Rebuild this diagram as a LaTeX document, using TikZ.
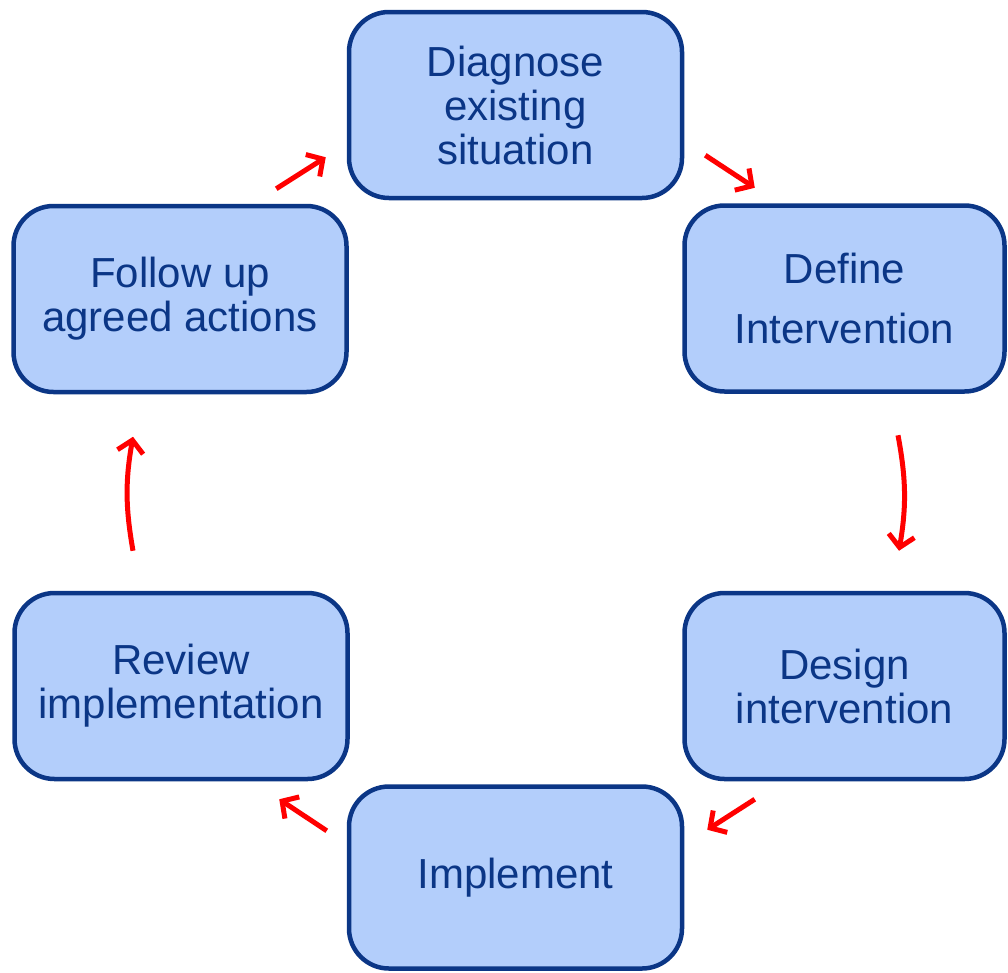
\documentclass[tikz,border=0pt]{standalone}
\usepackage{fontspec}
\setmainfont{Liberation Sans}
\usetikzlibrary{arrows.meta}
\definecolor{boxfill}{HTML}{B3CEFB}
\definecolor{boxline}{HTML}{0B3686}
\definecolor{flowred}{HTML}{FF0000}

\begin{document}
\begin{tikzpicture}[x=1pt,y=-1pt]
\tikzstyle{stage}=[draw=boxline, line width=4.5pt, fill=boxfill, rounded corners=40pt,
  minimum width=333pt, minimum height=186pt, inner sep=0pt, align=center,
  text=boxline, font=\fontsize{42}{44}\selectfont]
\tikzstyle{flow}=[flowred, line width=5pt, -{Straight Barb[length=12pt,width=26pt]}]
\useasboundingbox (0,0) rectangle (1008,972);
\draw (515.5,105) node [stage] (diag) {Diagnose\\existing\\situation};
\draw (844.5,298.5) node [stage, minimum width=320pt] (define) {Define\\[16pt]Intervention};
\draw (844.5,686) node [stage, minimum width=320pt] (design) {Design\\intervention};
\draw (515.5,877.5) node [stage, minimum height=182pt] (impl) {Implement};
\draw (181,686) node [stage] (review) {Review\\implementation};
\draw (180,299) node [stage] (follow) {Follow up\\agreed actions};
\draw [flow] ([xshift=-72.5pt,yshift=15pt]follow.north east) -- ([xshift=-21pt,yshift=43pt]diag.south west);
\draw [flow] ([xshift=21pt,yshift=45pt]diag.south east) -- ([xshift=72.5pt,yshift=15.5pt]define.north west);
\draw [flow] ([xshift=53.5pt,yshift=-41.5pt]define.south) to [bend left=10] ([xshift=54.5pt,yshift=40pt]design.north);
\draw [flow] ([xshift=72.5pt,yshift=-18pt]design.south west) -- ([xshift=23pt,yshift=-45.5pt]impl.north east);
\draw [flow] ([xshift=-20pt,yshift=-46.5pt]impl.north west) -- ([xshift=-70.5pt,yshift=-18pt]review.south east);
\draw [flow] ([xshift=-48pt,yshift=40pt]review.north) to [bend left=10] ([xshift=-47pt,yshift=-42.5pt]follow.south);
\end{tikzpicture}
\end{document}
